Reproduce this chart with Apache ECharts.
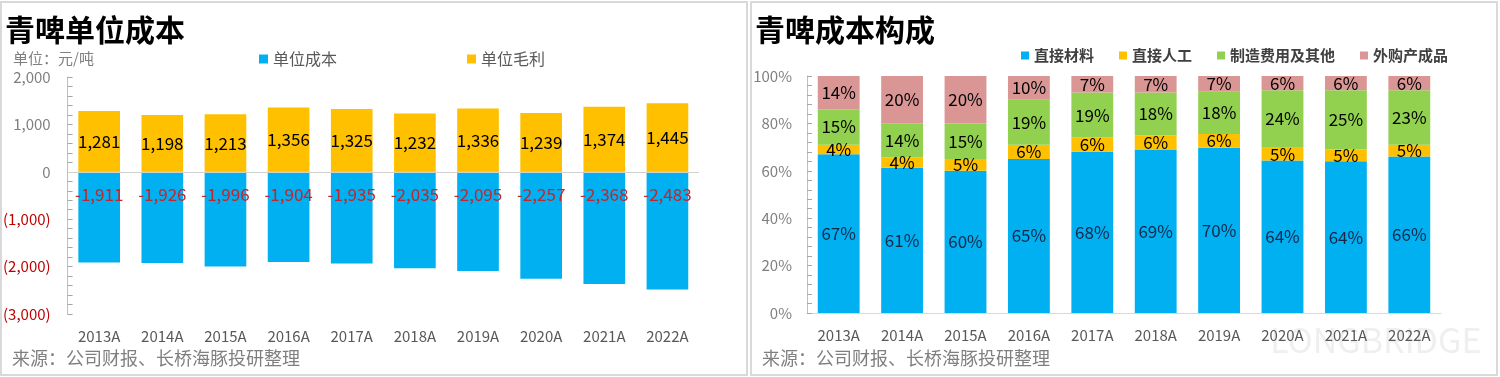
<!DOCTYPE html>
<html>
<head>
<meta charset="utf-8">
<script src="https://cdn.jsdelivr.net/npm/echarts@6/dist/echarts.min.js"></script>
<style>
html,body{margin:0;padding:0;background:#fff;}
#cost{position:absolute;left:0;top:0;width:750px;height:377px;}
#mix{position:absolute;left:750px;top:0;width:750px;height:377px;}
</style>
</head>
<body>
<div id="cost"></div>
<div id="mix"></div>
<script>
// 年份
var years = ['2013A','2014A','2015A','2016A','2017A','2018A','2019A','2020A','2021A','2022A'];
// 单位成本 / 单位毛利 (元/吨)
var unitCost = [-1911,-1926,-1996,-1904,-1935,-2035,-2095,-2257,-2368,-2483];
var unitMargin = [1281,1198,1213,1356,1325,1232,1336,1239,1374,1445];
// 成本构成 (%)
var material = [67,61.3,60,65,68,69,69.7,64.3,64,66];
var labor = [4,4.4,5,6,6,6,5.8,5.4,5,5];
var overhead = [15,14.4,15,19,19,18,17.9,24.3,25,23];
var purchased = [14,19.9,20,10,7,7,6.6,6.0,6,6];

var FONT = '"Noto Sans CJK SC", "Noto Sans", sans-serif';
var GRAY = '#7f7f7f';

function fmt(v) {
	return Math.abs(v).toString().replace(/\B(?=(\d{3})+(?!\d))/g, ',');
}

function panel(title, source) {
	return [
		{ type: 'rect', shape: { x: 1, y: 2, width: 746, height: 373 }, style: { fill: 'none', stroke: '#d9d9d9', lineWidth: 2 }, z: -1 },
		{ type: 'text', left: 5, top: 15, style: { text: title, font: 'bold 30px ' + FONT, fill: '#000' } },
		{ type: 'text', left: 12, top: 349, style: { text: source, font: '18px ' + FONT, fill: GRAY } }
	];
}

//单位成本图
var costChart = echarts.init(document.getElementById('cost'));
var g1 = panel('青啤单位成本', '来源：公司财报、长桥海豚投研整理');
g1.push({ type: 'text', left: 13, top: 51, style: { text: '单位：元/吨', font: '15px ' + FONT, fill: GRAY } });
costChart.setOption({
	animation: false,
	textStyle: { fontFamily: FONT },
	graphic: g1,
	legend: {
		left: 254, top: 46,
		itemWidth: 9, itemHeight: 9, itemGap: 130,
		icon: 'rect',
		textStyle: { fontSize: 16, color: '#595959', fontFamily: FONT },
		data: ['单位成本', '单位毛利']
	},
	grid: { left: 66, top: 77, width: 633, height: 237 },
	xAxis: {
		type: 'category',
		data: years,
		axisLine: { show: false, onZero: false },
		axisTick: { show: false },
		axisLabel: { fontSize: 15, color: '#595959', margin: 15 }
	},
	yAxis: {
		type: 'value',
		min: -3000, max: 2000, interval: 1000,
		splitLine: { show: false },
		axisLine: { show: true, lineStyle: { color: '#bfbfbf' } },
		axisTick: { show: true, inside: true, length: 5, lineStyle: { color: '#a6a6a6' } },
		minorTick: { show: true, splitNumber: 5, length: 5, lineStyle: { color: '#a6a6a6' } },
		axisLabel: {
			fontSize: 15, margin: 17,
			color: function (v) { return v < 0 ? '#c00000' : GRAY; },
			formatter: function (v) { return v < 0 ? '(' + fmt(v) + ')' : fmt(v); }
		}
	},
	series: [
		{
			name: '单位成本', type: 'bar', stack: 'a', barWidth: '66%',
			data: unitCost,
			itemStyle: { color: '#00b0f0' },
			label: {
				show: true, position: 'insideTop', distance: 14,
				fontSize: 17, color: '#c0262d',
				formatter: function (p) { return '-' + fmt(p.value); }
			},
			markLine: {
				silent: true, symbol: 'none', label: { show: false },
				lineStyle: { color: '#d0d0d0', type: 'solid', width: 1 },
				data: [{ yAxis: 0 }]
			}
		},
		{
			name: '单位毛利', type: 'bar', stack: 'a', barWidth: '66%',
			data: unitMargin,
			itemStyle: { color: '#ffc000' },
			label: {
				show: true, position: 'inside',
				fontSize: 17, color: '#000',
				formatter: function (p) { return fmt(p.value); }
			}
		}
	]
});

//成本构成图
var mixChart = echarts.init(document.getElementById('mix'));
var g2 = panel('青啤成本构成', '来源：公司财报、长桥海豚投研整理');
g2.push({ type: 'text', left: 520, top: 323, style: { text: 'LONGBRIDGE', font: '34px ' + FONT, fill: '#efefef' }, z: -1 });
function pctLabel(color) {
	return {
		show: true, position: 'inside', fontSize: 17, color: color,
		formatter: function (p) { return Math.round(p.value) + '%'; }
	};
}
mixChart.setOption({
	animation: false,
	textStyle: { fontFamily: FONT },
	graphic: g2,
	legend: {
		left: 266, top: 43,
		itemWidth: 8, itemHeight: 8, itemGap: 25,
		icon: 'rect',
		textStyle: { fontSize: 15, fontWeight: 'bold', color: '#404040', fontFamily: FONT },
		data: ['直接材料', '直接人工', '制造费用及其他', '外购产成品']
	},
	grid: { left: 57, top: 76, width: 634, height: 237 },
	xAxis: {
		type: 'category',
		data: years,
		axisLine: { show: true, lineStyle: { color: '#d9d9d9' } },
		axisTick: { show: false },
		axisLabel: { fontSize: 15, color: '#595959', margin: 15 }
	},
	yAxis: {
		type: 'value',
		min: 0, max: 100, interval: 20,
		splitLine: { show: false },
		axisLine: { show: true, lineStyle: { color: '#bfbfbf' } },
		axisTick: { show: true, inside: true, length: 5, lineStyle: { color: '#a6a6a6' } },
		minorTick: { show: true, splitNumber: 5, length: 5, lineStyle: { color: '#a6a6a6' } },
		axisLabel: { fontSize: 15, margin: 15, color: GRAY, formatter: '{value}%' }
	},
	series: [
		{ name: '直接材料', type: 'bar', stack: 'b', barWidth: '66%', data: material, itemStyle: { color: '#00b0f0' }, label: pctLabel('#13294b') },
		{ name: '直接人工', type: 'bar', stack: 'b', barWidth: '66%', data: labor, itemStyle: { color: '#ffc000' }, label: pctLabel('#000') },
		{ name: '制造费用及其他', type: 'bar', stack: 'b', barWidth: '66%', data: overhead, itemStyle: { color: '#92d050' }, label: pctLabel('#000') },
		{ name: '外购产成品', type: 'bar', stack: 'b', barWidth: '66%', data: purchased, itemStyle: { color: '#d99694' }, label: pctLabel('#000') }
	]
});
</script>
</body>
</html>
